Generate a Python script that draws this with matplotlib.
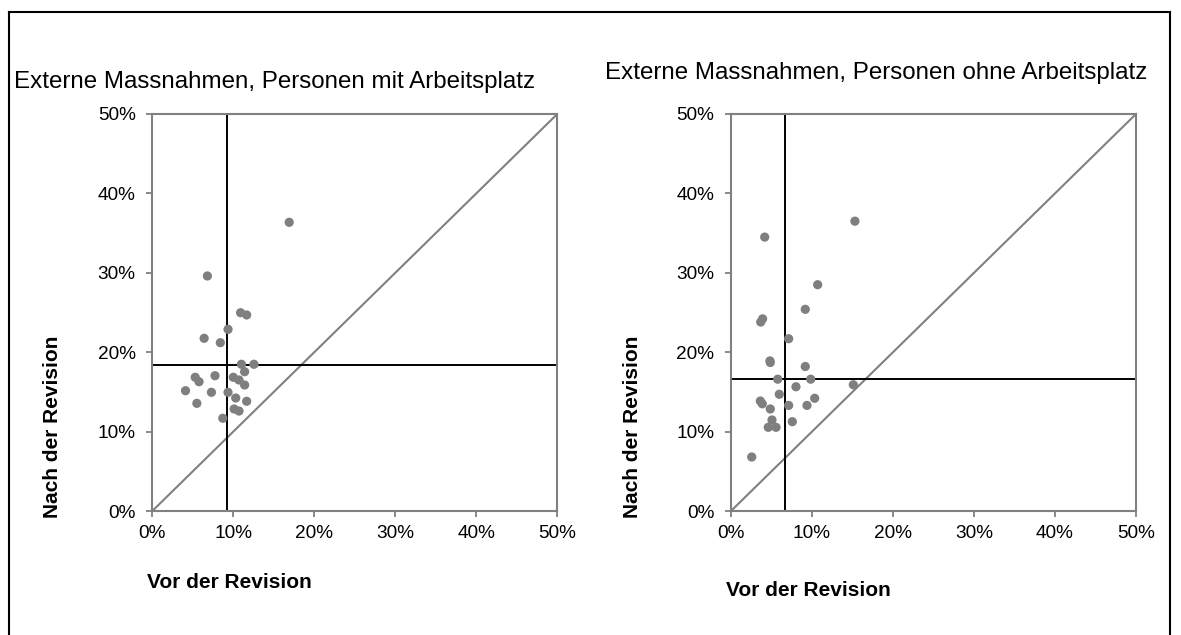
import matplotlib
matplotlib.use("Agg")
import matplotlib.pyplot as plt
from matplotlib.ticker import PercentFormatter
from matplotlib.lines import Line2D

plt.rcParams['font.family'] = ['Liberation Sans', 'DejaVu Sans']

# Data (percent)
titles = ["Externe Massnahmen, Personen mit Arbeitsplatz",
          "Externe Massnahmen, Personen ohne Arbeitsplatz"]
x_label = "Vor der Revision"
y_label = "Nach der Revision"

left_x = [16.9, 6.8, 10.9, 11.65, 9.35, 6.4, 8.4, 11.0, 12.55, 11.4, 5.3, 5.77, 7.74,
          10.0, 10.7, 11.4, 4.1, 7.3, 9.35, 10.3, 5.5, 11.65, 10.1, 10.7, 8.7]
left_y = [36.36, 29.6, 24.97, 24.69, 22.88, 21.75, 21.2, 18.48, 18.48, 17.54, 16.84, 16.28, 17.04,
          16.84, 16.5, 15.87, 15.15, 14.95, 14.95, 14.23, 13.56, 13.82, 12.85, 12.59, 11.68]
left_mean_x = 9.18
left_mean_y = 18.45

right_x = [15.3, 4.16, 10.7, 9.17, 3.9, 3.67, 7.12, 4.81, 4.85, 9.17, 5.77, 9.84, 15.1,
           8.02, 5.96, 10.33, 3.62, 3.86, 4.85, 7.12, 9.38, 5.06, 7.57, 4.6, 5.56, 2.56]
right_y = [36.5, 34.5, 28.5, 25.4, 24.2, 23.8, 21.7, 18.9, 18.7, 18.2, 16.6, 16.6, 15.9,
           15.65, 14.7, 14.2, 13.85, 13.5, 12.85, 13.3, 13.3, 11.46, 11.25, 10.54, 10.54, 6.8]
right_mean_x = 6.67
right_mean_y = 16.6

ticks = [0, 10, 20, 30, 40, 50]

W, H = 1181, 635
fig = plt.figure(figsize=(W / 100, H / 100), dpi=100)

def fx(px):
    return px / W

def fy(py):
    return (H - py) / H

# outer frame (bottom runs off the image)
frame_col = 'black'
fig.add_artist(Line2D([fx(9), fx(1170)], [fy(12), fy(12)], color=frame_col, lw=1.5, transform=fig.transFigure))
fig.add_artist(Line2D([fx(9), fx(9)], [fy(12), fy(640)], color=frame_col, lw=1.5, transform=fig.transFigure))
fig.add_artist(Line2D([fx(1170), fx(1170)], [fy(12), fy(640)], color=frame_col, lw=1.5, transform=fig.transFigure))

gray = '#808080'
panels = [
    dict(x0=152.3, xs=left_x, ys=left_y, mx=left_mean_x, my=left_mean_y,
         title=titles[0], tx=14, ty=82, ylx=53, xlx=147, xly=583),
    dict(x0=731.0, xs=right_x, ys=right_y, mx=right_mean_x, my=right_mean_y,
         title=titles[1], tx=605, ty=73, ylx=633, xlx=726, xly=590),
]

for p in panels:
    ax = fig.add_axes([fx(p['x0']), fy(511), 405 / W, 397 / H])
    ax.set_xlim(0, 50)
    ax.set_ylim(0, 50)
    ax.plot([0, 50], [0, 50], color=gray, lw=1.5, zorder=1)
    ax.axvline(p['mx'], color='black', lw=1.4, zorder=2)
    ax.axhline(p['my'], color='black', lw=1.4, zorder=2)
    ax.scatter(p['xs'], p['ys'], s=44, color='#7f7f7f', edgecolors='none', zorder=3, clip_on=False)
    ax.set_xticks(ticks)
    ax.set_yticks(ticks)
    ax.xaxis.set_major_formatter(PercentFormatter(xmax=100, decimals=0))
    ax.yaxis.set_major_formatter(PercentFormatter(xmax=100, decimals=0))
    for s in ax.spines.values():
        s.set_color(gray)
        s.set_linewidth(1.5)
    ax.tick_params(axis='both', direction='out', length=4, width=1.3, color=gray,
                   labelsize=13.7, labelcolor='black')
    ax.tick_params(axis='x', pad=6)
    ax.tick_params(axis='y', pad=8)
    fig.text(fx(p['tx']), fy(p['ty']), p['title'], fontsize=17.4, ha='left', va='center')
    fig.text(fx(p['ylx']), fy(427), y_label, fontsize=15, fontweight='bold',
             rotation=90, ha='center', va='center')
    fig.text(fx(p['xlx']), fy(p['xly']), x_label, fontsize=15, fontweight='bold',
             ha='left', va='center')

fig.savefig("out.png", dpi=100)
